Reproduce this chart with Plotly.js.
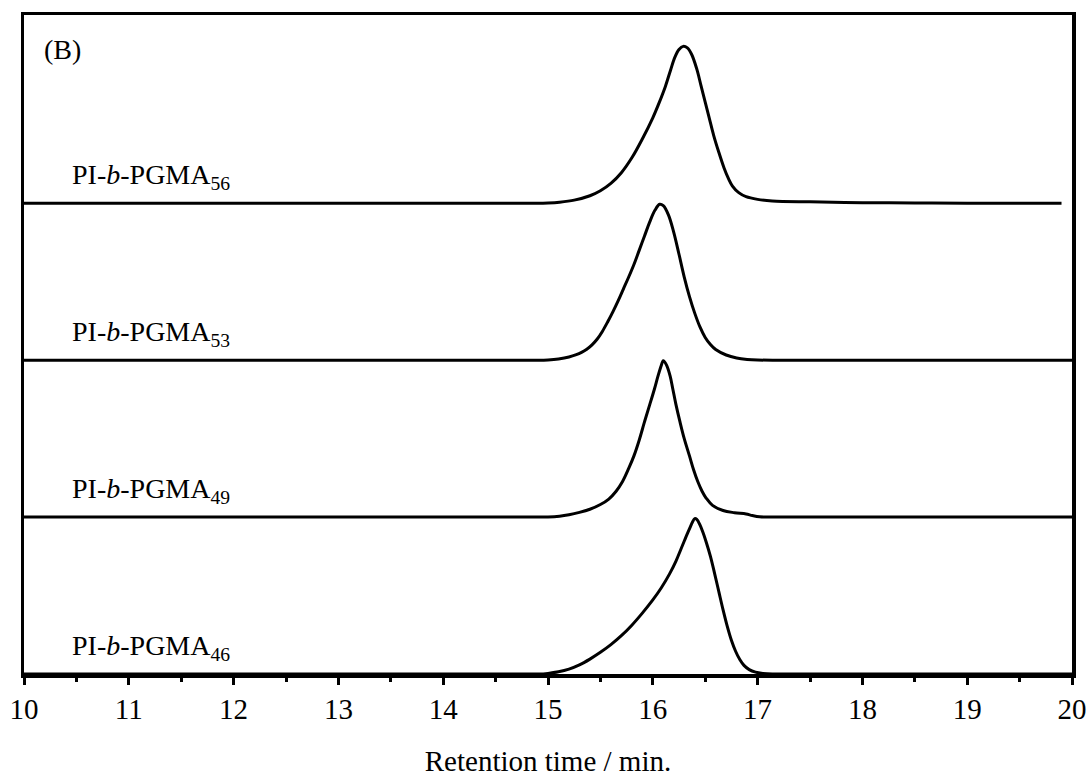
<!DOCTYPE html>
<html>
<head>
<meta charset="utf-8">
<script src="https://cdn.plot.ly/plotly-3.0.1.min.js"></script>
<style>html,body{margin:0;padding:0;background:#fff;}#chart{width:1090px;height:777px;}</style>
</head>
<body>
<div id="chart"></div>
<script>
// Series names (labels)
const seriesNames = ["PI-<i>b</i>-PGMA<sub>46</sub>", "PI-<i>b</i>-PGMA<sub>49</sub>", "PI-<i>b</i>-PGMA<sub>53</sub>", "PI-<i>b</i>-PGMA<sub>56</sub>"];
// Vertical stacking offsets of each trace
const offsets = [0, 1, 2, 3];

// PI-b-PGMA46 (bottom)
const x46 = [10, 12, 13.5, 14.0, 14.4, 14.7, 14.9, 15.00, 15.10, 15.20, 15.30, 15.40, 15.50, 15.60, 15.70, 15.80, 15.90, 16.00, 16.08, 16.16, 16.22, 16.27, 16.31, 16.35, 16.38, 16.40, 16.42, 16.45, 16.48, 16.51, 16.55, 16.59, 16.63, 16.67, 16.71, 16.75, 16.79, 16.83, 16.87, 16.92, 16.98, 17.05, 17.14, 17.3, 17.6, 18.0, 18.5, 19.0, 19.5, 20];
const y46 = [0, 0, 0, 0, 0, 0, 0, 0.004, 0.014, 0.031, 0.058, 0.095, 0.138, 0.187, 0.244, 0.311, 0.388, 0.472, 0.548, 0.638, 0.718, 0.798, 0.863, 0.925, 0.970, 0.990, 0.985, 0.950, 0.900, 0.840, 0.750, 0.640, 0.525, 0.410, 0.305, 0.215, 0.145, 0.092, 0.055, 0.028, 0.012, 0.004, 0, 0, 0, 0, 0, 0, 0, 0];

// PI-b-PGMA49
const x49 = [10, 12, 13.5, 14.0, 14.4, 14.7, 15.00, 15.11, 15.20, 15.30, 15.40, 15.50, 15.58, 15.65, 15.71, 15.77, 15.82, 15.87, 15.92, 15.97, 16.015, 16.05, 16.08, 16.10, 16.13, 16.165, 16.19, 16.22, 16.26, 16.30, 16.35, 16.39, 16.43, 16.47, 16.51, 16.57, 16.67, 16.78, 16.89, 16.95, 17.02, 17.2, 17.5, 18.0, 18.5, 19.0, 19.5, 20];
const y49 = [0, 0, 0, 0, 0, 0, 0.001, 0.006, 0.015, 0.030, 0.050, 0.080, 0.115, 0.165, 0.225, 0.310, 0.390, 0.490, 0.605, 0.715, 0.815, 0.900, 0.965, 0.997, 0.970, 0.900, 0.820, 0.720, 0.605, 0.500, 0.390, 0.300, 0.225, 0.165, 0.120, 0.075, 0.042, 0.028, 0.020, 0.010, 0.002, 0, 0, 0, 0, 0, 0, 0];

// PI-b-PGMA53
const x53 = [10, 12, 13.5, 14.0, 14.4, 14.7, 14.9, 15.00, 15.10, 15.20, 15.27, 15.32, 15.37, 15.42, 15.47, 15.52, 15.57, 15.62, 15.67, 15.72, 15.77, 15.82, 15.87, 15.92, 15.97, 16.02, 16.065, 16.10, 16.15, 16.20, 16.25, 16.30, 16.35, 16.40, 16.45, 16.50, 16.55, 16.60, 16.70, 16.80, 16.90, 17.00, 17.2, 17.5, 18.0, 18.5, 19.0, 19.5, 20];
const y53 = [0, 0, 0, 0, 0, 0, 0, 0.002, 0.008, 0.020, 0.035, 0.050, 0.070, 0.098, 0.135, 0.185, 0.245, 0.310, 0.380, 0.455, 0.530, 0.610, 0.700, 0.790, 0.880, 0.955, 0.994, 0.985, 0.925, 0.815, 0.675, 0.530, 0.405, 0.300, 0.212, 0.145, 0.100, 0.068, 0.033, 0.014, 0.005, 0.001, 0, 0, 0, 0, 0, 0, 0];

// PI-b-PGMA56 (top)
const x56 = [10, 12, 13.5, 14.0, 14.4, 14.7, 14.9, 15.00, 15.11, 15.25, 15.40, 15.50, 15.60, 15.70, 15.80, 15.90, 16.00, 16.06, 16.12, 16.17, 16.21, 16.25, 16.29, 16.33, 16.37, 16.42, 16.46, 16.50, 16.54, 16.58, 16.63, 16.68, 16.72, 16.76, 16.82, 16.89, 17.00, 17.14, 17.50, 18.00, 18.5, 19.00, 19.90];
const y56 = [0, 0, 0, 0, 0, 0, 0, 0.002, 0.007, 0.020, 0.048, 0.080, 0.127, 0.195, 0.290, 0.410, 0.545, 0.640, 0.745, 0.850, 0.930, 0.980, 1.000, 0.990, 0.950, 0.855, 0.750, 0.645, 0.540, 0.435, 0.325, 0.225, 0.160, 0.110, 0.068, 0.042, 0.025, 0.015, 0.009, 0.004, 0.002, 0.001, 0];

const xs = [x46, x49, x53, x56];
const ys = [y46, y49, y53, y56];

const xTickVals = [10, 11, 12, 13, 14, 15, 16, 17, 18, 19, 20];
const xTitle = "Retention time / min.";
const panelLabel = "(B)";

const FONT = "'Liberation Serif', 'Times New Roman', serif";

const traces = xs.map((xv, i) => ({
  x: xv,
  y: ys[i].map(v => v + offsets[i]),
  type: 'scatter',
  mode: 'lines',
  line: {color: '#000', width: 3, shape: 'spline', smoothing: 1, simplify: false},
  hoverinfo: 'skip',
  showlegend: false
}));

const annotations = seriesNames.map((name, i) => ({
  text: name,
  xref: 'x', yref: 'y',
  x: 10.44, y: offsets[i] + 0.17,
  xanchor: 'left', yanchor: 'middle',
  showarrow: false,
  font: {family: FONT, size: 28, color: '#000'}
}));
annotations.push({
  text: panelLabel,
  xref: 'paper', yref: 'paper',
  x: 0.017, y: 0.947,
  xanchor: 'left', yanchor: 'middle',
  showarrow: false,
  font: {family: FONT, size: 28, color: '#000'}
});

const layout = {
  width: 1090, height: 777,
  margin: {l: 24, r: 18, t: 15, b: 103},
  paper_bgcolor: '#fff', plot_bgcolor: '#fff',
  showlegend: false,
  font: {family: FONT, color: '#000'},
  xaxis: {
    range: [10, 20],
    tickvals: xTickVals,
    ticks: 'outside', ticklen: 7, tickwidth: 3, tickcolor: '#000',
    minor: {dtick: 0.5, tick0: 10, ticks: 'outside', ticklen: 4, tickwidth: 3, tickcolor: '#000', showgrid: false},
    showline: true, linewidth: 3.5, linecolor: '#000', mirror: true,
    showgrid: false, zeroline: false,
    tickfont: {family: FONT, size: 29, color: '#000'},
    title: {text: xTitle, font: {family: FONT, size: 29, color: '#000'}, standoff: 30}
  },
  yaxis: {
    range: [0, 4.2],
    showticklabels: false, ticks: '',
    showline: true, linewidth: 3.5, linecolor: '#000', mirror: true,
    showgrid: false, zeroline: false
  },
  annotations: annotations
};

Plotly.newPlot('chart', traces, layout, {staticPlot: true, displayModeBar: false});
</script>
</body>
</html>
